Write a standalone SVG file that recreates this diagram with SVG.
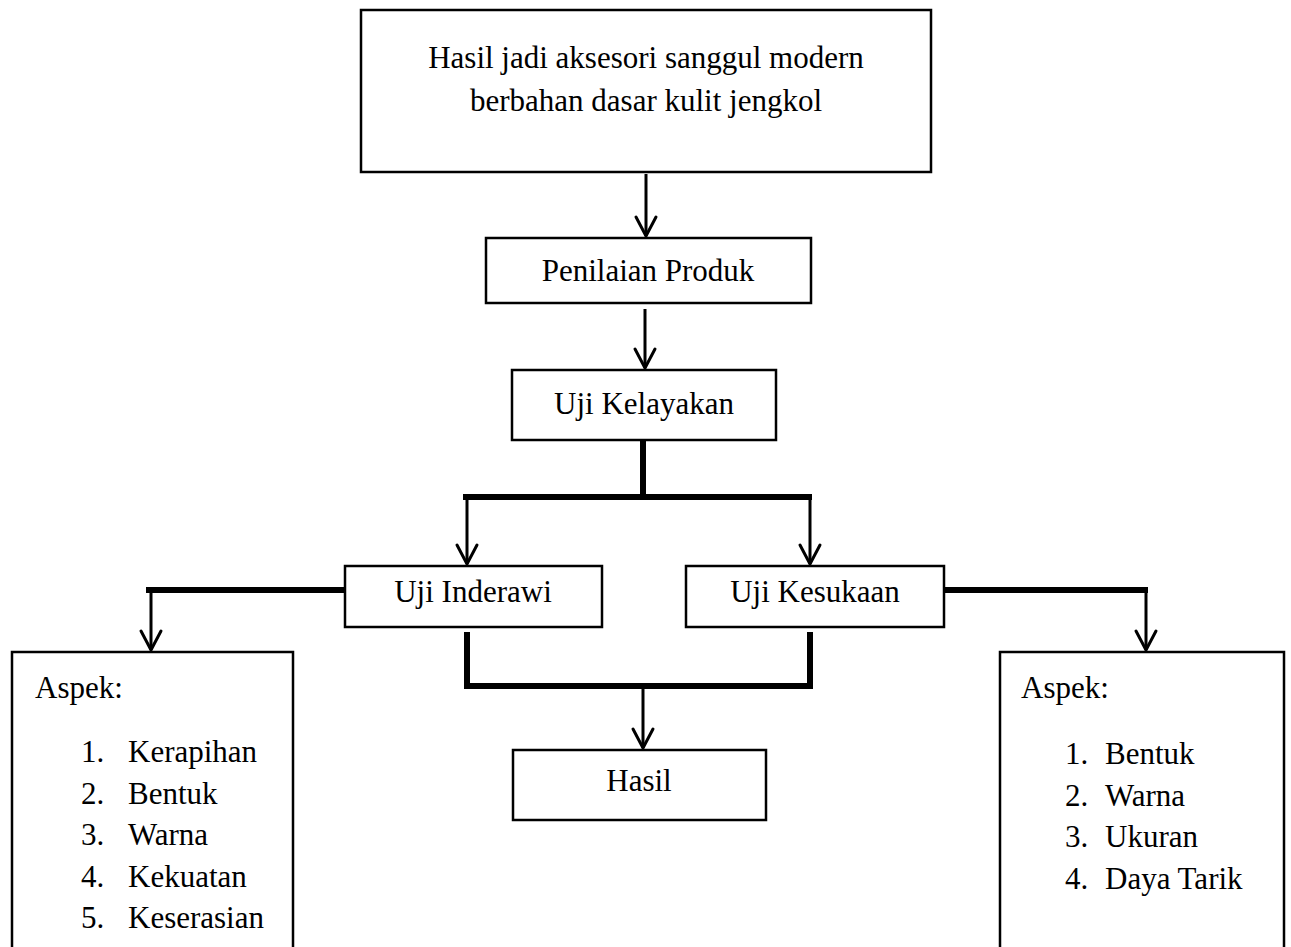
<svg xmlns="http://www.w3.org/2000/svg" width="1291" height="947" viewBox="0 0 1291 947">
<style>
.box{fill:#fff;stroke:#000;stroke-width:2.5}
.t{font-family:"Liberation Serif","Times New Roman",serif;font-size:31px;fill:#000}
.c{text-anchor:middle}
.thick{stroke:#000;stroke-width:6;fill:none}
.thin{stroke:#000;stroke-width:3;fill:none}
.head{stroke:#000;stroke-width:3;fill:none;stroke-linecap:round;stroke-linejoin:miter}
</style>
<rect width="1291" height="947" fill="#fff"/>
<g id="connectors">
<line class="thin" x1="646" y1="174" x2="646" y2="236"/>
<polyline class="head" points="636,217 646,236 656,217"/>
<line class="thin" x1="645" y1="309" x2="645" y2="368"/>
<polyline class="head" points="635,349 645,368 655,349"/>
<line class="thick" x1="643" y1="441" x2="643" y2="497"/>
<line class="thick" x1="463" y1="497" x2="812" y2="497"/>
<line class="thin" x1="467" y1="497" x2="467" y2="564"/>
<polyline class="head" points="457,545 467,564 477,545"/>
<line class="thin" x1="810" y1="497" x2="810" y2="564"/>
<polyline class="head" points="800,545 810,564 820,545"/>
<line class="thick" x1="146" y1="590" x2="344" y2="590"/>
<line class="thin" x1="151" y1="590" x2="151" y2="650"/>
<polyline class="head" points="141,631 151,650 161,631"/>
<line class="thick" x1="945" y1="590" x2="1148" y2="590"/>
<line class="thin" x1="1146" y1="590" x2="1146" y2="650"/>
<polyline class="head" points="1136,631 1146,650 1156,631"/>
<line class="thick" x1="467" y1="632" x2="467" y2="689"/>
<line class="thick" x1="810" y1="632" x2="810" y2="689"/>
<line class="thick" x1="464" y1="686" x2="813" y2="686"/>
<line class="thin" x1="643" y1="686" x2="643" y2="748"/>
<polyline class="head" points="633,729 643,748 653,729"/>
</g>
<g id="node-top">
<rect class="box" x="361" y="10" width="570" height="162"/>
<text class="t c" x="646" y="68">Hasil jadi aksesori sanggul modern</text>
<text class="t c" x="646" y="111">berbahan dasar kulit jengkol</text>
</g>
<g id="node-penilaian">
<rect class="box" x="486" y="238" width="325" height="65"/>
<text class="t c" x="648" y="281">Penilaian Produk</text>
</g>
<g id="node-kelayakan">
<rect class="box" x="512" y="370" width="264" height="70"/>
<text class="t c" x="644" y="414">Uji Kelayakan</text>
</g>
<g id="node-inderawi">
<rect class="box" x="345" y="566" width="257" height="61"/>
<text class="t c" x="473" y="602">Uji Inderawi</text>
</g>
<g id="node-kesukaan">
<rect class="box" x="686" y="566" width="258" height="61"/>
<text class="t c" x="815" y="602">Uji Kesukaan</text>
</g>
<g id="node-hasil">
<rect class="box" x="513" y="750" width="253" height="70"/>
<text class="t c" x="639" y="791">Hasil</text>
</g>
<g id="node-aspek-left">
<rect class="box" x="12" y="652" width="281" height="300"/>
<text class="t" x="35" y="698">Aspek:</text>
<text class="t" x="81" y="762">1.</text><text class="t" x="128" y="762">Kerapihan</text>
<text class="t" x="81" y="804">2.</text><text class="t" x="128" y="804">Bentuk</text>
<text class="t" x="81" y="845">3.</text><text class="t" x="128" y="845">Warna</text>
<text class="t" x="81" y="887">4.</text><text class="t" x="128" y="887">Kekuatan</text>
<text class="t" x="81" y="928">5.</text><text class="t" x="128" y="928">Keserasian</text>
</g>
<g id="node-aspek-right">
<rect class="box" x="1000" y="652" width="284" height="300"/>
<text class="t" x="1021" y="698">Aspek:</text>
<text class="t" x="1065" y="764">1.</text><text class="t" x="1105" y="764">Bentuk</text>
<text class="t" x="1065" y="806">2.</text><text class="t" x="1105" y="806">Warna</text>
<text class="t" x="1065" y="847">3.</text><text class="t" x="1105" y="847">Ukuran</text>
<text class="t" x="1065" y="889">4.</text><text class="t" x="1105" y="889">Daya Tarik</text>
</g>
</svg>
